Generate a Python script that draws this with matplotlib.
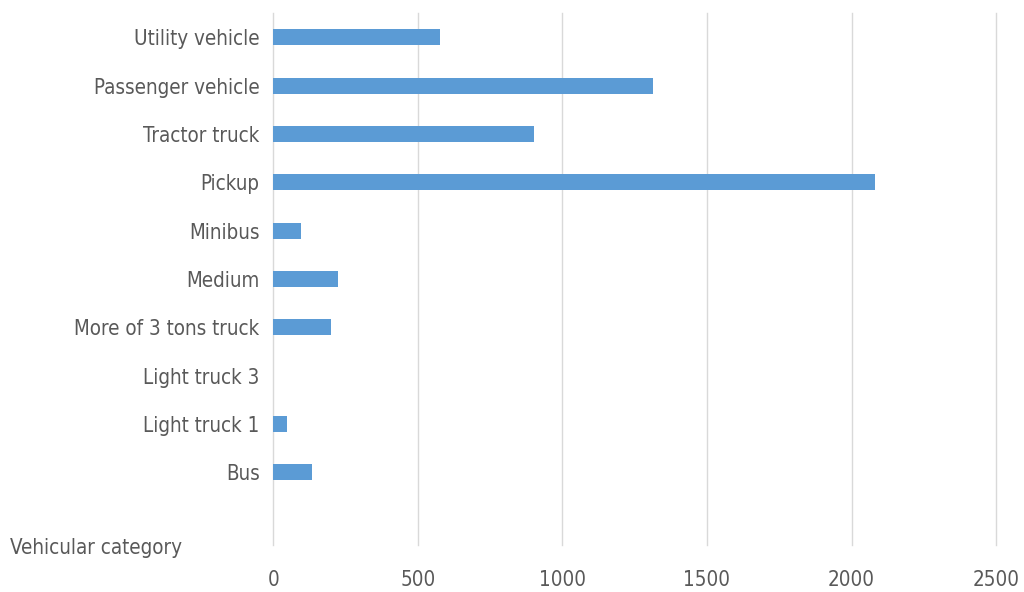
import matplotlib
matplotlib.use("Agg")
import matplotlib.pyplot as plt

# Vehicle counts by category (top to bottom as drawn)
categories = [
    "Utility vehicle",
    "Passenger vehicle",
    "Tractor truck",
    "Pickup",
    "Minibus",
    "Medium",
    "More of 3 tons truck",
    "Light truck 3",
    "Light truck 1",
    "Bus",
]
counts = [578, 1312, 902, 2080, 95, 224, 200, 0, 47, 133]
x_ticks = [0, 500, 1000, 1500, 2000, 2500]

plt.rcParams["font.family"] = ["DejaVu Sans"]
plt.rcParams["font.stretch"] = "condensed"

text_color = "#595959"
bar_color = "#5B9BD5"
grid_color = "#D9D9D9"
fsize = 14.8

fig = plt.figure(figsize=(10.24, 5.92), dpi=100)
ax = fig.add_axes([0.267, 0.0794, 0.7057, 0.8986])

# one empty slot at the bottom, below "Bus"
n = len(categories) + 1
positions = [n - 1 - i for i in range(len(categories))]
ax.barh(positions, counts, height=0.33, color=bar_color, zorder=3)

ax.set_ylim(-0.5, n - 0.5)
ax.set_xlim(0, 2500)
ax.set_xticks(x_ticks)
ax.set_xticklabels([str(t) for t in x_ticks])
ax.set_yticks(positions)
ax.set_yticklabels(categories)

for t in x_ticks:
    ax.axvline(t, color=grid_color, linewidth=1.0, zorder=0, clip_on=False)
for s in ax.spines.values():
    s.set_visible(False)
ax.tick_params(axis="both", length=0, colors=text_color, labelsize=fsize)
ax.tick_params(axis="x", pad=18)
ax.tick_params(axis="y", pad=10)
for lbl in ax.get_xticklabels() + ax.get_yticklabels():
    lbl.set_fontstretch("condensed")

fig.text(10 / 1024, 1 - 548 / 592, "Vehicular category", color=text_color,
         fontsize=fsize, fontstretch="condensed", ha="left", va="center")

fig.savefig("out.png", dpi=100, facecolor="white")
